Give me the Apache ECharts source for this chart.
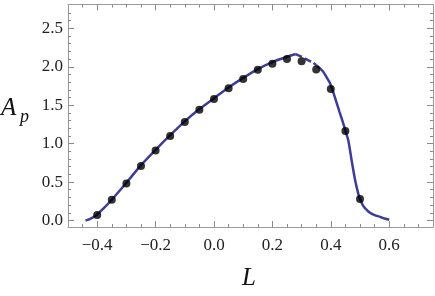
<!DOCTYPE html>
<html>
<head>
<meta charset="utf-8">
<script src="https://cdn.jsdelivr.net/npm/echarts@6/dist/echarts.min.js"></script>
<style>
html,body{margin:0;padding:0;background:#fff;}
#c{width:435px;height:296px;}
</style>
</head>
<body>
<div id="c"></div>
<script>
// Data points (dots)
const dotL  = [-0.4,-0.35,-0.3,-0.25,-0.2,-0.15,-0.1,-0.05,0.0,0.05,0.1,0.15,0.2,0.25,0.3,0.35,0.4,0.45,0.5];
const dotAp = [0.07,0.27,0.48,0.71,0.91,1.10,1.28,1.44,1.58,1.72,1.84,1.96,2.04,2.10,2.07,1.965,1.71,1.165,0.28];

// Curve, solid left part
const curve1L  = [-0.44,-0.43,-0.42,-0.41,-0.4,-0.38,-0.35,-0.3,-0.25,-0.2,-0.15,-0.1,-0.05,0.0,0.05,0.1,0.15,0.2,0.25,0.28];
const curve1Ap = [0.0,0.01,0.03,0.05,0.08,0.15,0.27,0.49,0.72,0.92,1.11,1.29,1.45,1.59,1.73,1.855,1.97,2.06,2.13,2.165];
// Curve, dashed middle part
const curve2L  = [0.28,0.3,0.32,0.34,0.35];
const curve2Ap = [2.165,2.13,2.09,2.05,2.02];
// Curve, solid right part
const curve3L  = [0.35,0.363,0.375,0.386,0.397,0.41,0.42,0.43,0.442,0.45,0.46,0.471,0.483,0.494,0.5,0.511,0.522,0.534,0.55,0.57,0.585,0.6];
const curve3Ap = [2.02,1.98,1.93,1.86,1.79,1.65,1.53,1.41,1.27,1.17,1.04,0.79,0.53,0.35,0.28,0.19,0.14,0.10,0.07,0.045,0.025,0.01];

// Ticks
const xMajor = [-0.4,-0.2,0.0,0.2,0.4,0.6];
const xMinor = [-0.45,-0.35,-0.3,-0.25,-0.15,-0.1,-0.05,0.05,0.1,0.15,0.25,0.3,0.35,0.45,0.5,0.55,0.65,0.7];
const yMajor = [0.0,0.5,1.0,1.5,2.0,2.5];
const yMinor = [0.1,0.2,0.3,0.4,0.6,0.7,0.8,0.9,1.1,1.2,1.3,1.4,1.6,1.7,1.8,1.9,2.1,2.2,2.3,2.4,2.6,2.7];

const zip = (a,b)=>a.map((v,i)=>[v,b[i]]);
const SERIF = '"Liberation Serif", "Times New Roman", serif';
const FRAME = '#9a9a9a';
const TICK = '#8a8a8a';
const BLUE = '#3d3d99';
const XMIN=-0.5, XMAX=0.75, YMIN=-0.085, YMAX=2.81;

function xAx(pos, vals, len, showLine, showLabel){
  return {
    type:'value', position:pos, min:XMIN, max:XMAX,
    axisLine:{show:showLine, onZero:false, lineStyle:{color:FRAME,width:1}},
    axisTick:{show:true, inside:true, length:len, customValues:vals, lineStyle:{color:TICK,width:1}},
    axisLabel:{show:showLabel, customValues:vals, margin:10, color:'#222',
      formatter:v=>'{t|'+(v<0?'\u2212':'')+Math.abs(v).toFixed(1)+'}',
      rich:{t:{fontFamily:SERIF, fontSize:17, color:'#222'}}},
    splitLine:{show:false}
  };
}
function yAx(pos, vals, len, showLine, showLabel){
  return {
    type:'value', position:pos, min:YMIN, max:YMAX,
    axisLine:{show:showLine, onZero:false, lineStyle:{color:FRAME,width:1}},
    axisTick:{show:true, inside:true, length:len, customValues:vals, lineStyle:{color:TICK,width:1}},
    axisLabel:{show:showLabel, customValues:vals, margin:5, color:'#222',
      formatter:v=>'{t|'+v.toFixed(1)+'}',
      rich:{t:{fontFamily:SERIF, fontSize:17, color:'#222'}}},
    splitLine:{show:false}
  };
}

const chart = echarts.init(document.getElementById('c'), null, {renderer:'canvas'});
chart.setOption({
  animation:false,
  backgroundColor:'#fff',
  textStyle:{fontFamily:SERIF},
  grid:{left:68, right:2, top:4.5, bottom:69, containLabel:false},
  xAxis:[ xAx('bottom',xMajor,6,true,true), xAx('bottom',xMinor,3,false,false),
          xAx('top',xMajor,6,true,false), xAx('top',xMinor,3,false,false) ],
  yAxis:[ yAx('left',yMajor,6,true,true), yAx('left',yMinor,3,false,false),
          yAx('right',yMajor,6,true,false), yAx('right',yMinor,3,false,false) ],
  graphic:[
    {type:'text', left:1, top:96, style:{text:'A', font:'italic 25px '+SERIF, fill:'#111'}},
    {type:'text', left:20, top:108, style:{text:'p', font:'italic 18px '+SERIF, fill:'#111'}},
    {type:'text', left:242, top:266, style:{text:'L', font:'italic 25px '+SERIF, fill:'#111'}}
  ],
  series:[
    {type:'line', data:zip(curve1L,curve1Ap), showSymbol:false, smooth:0.2,
     lineStyle:{color:BLUE,width:2.5}, z:2},
    {type:'line', data:zip(curve2L,curve2Ap), showSymbol:false, smooth:0.2,
     lineStyle:{color:BLUE,width:2.5,type:[7,3]}, z:2},
    {type:'line', data:zip(curve3L,curve3Ap), showSymbol:false, smooth:0.2,
     lineStyle:{color:BLUE,width:2.5}, z:2},
    {type:'scatter', data:zip(dotL,dotAp), symbol:'circle', symbolSize:8,
     itemStyle:{color:'#000'}, z:3}
  ]
});
</script>
</body>
</html>
